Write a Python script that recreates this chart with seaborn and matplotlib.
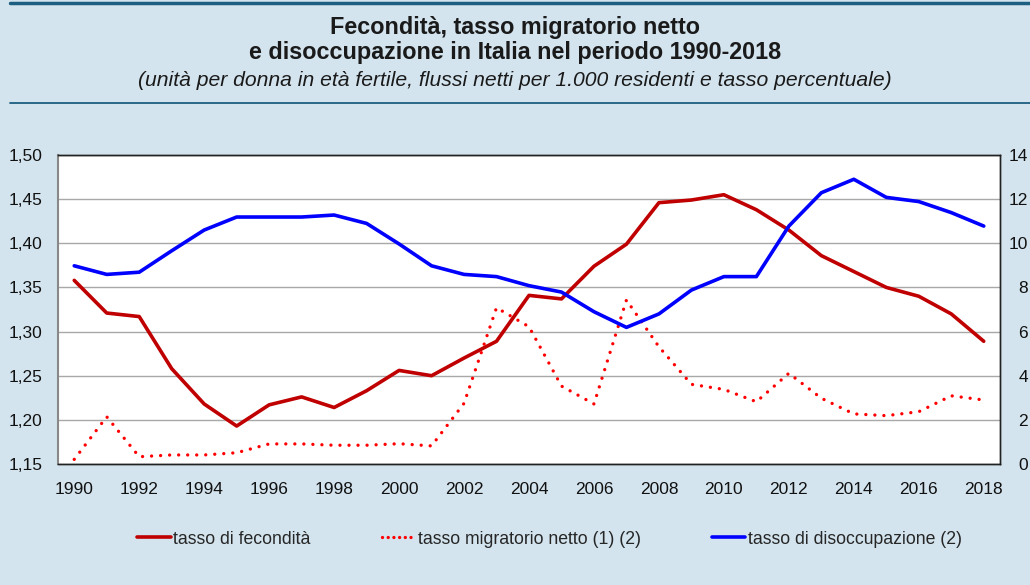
import numpy as np
import pandas as pd
import seaborn as sns
import matplotlib.pyplot as plt
from matplotlib.ticker import FuncFormatter, FixedLocator
from matplotlib.lines import Line2D

# dati
anni = list(range(1990, 2019))
fecondita = [1.358, 1.321, 1.317, 1.258, 1.218, 1.193, 1.217, 1.226, 1.214, 1.233,
             1.256, 1.250, 1.270, 1.289, 1.341, 1.337, 1.374, 1.399, 1.446, 1.449,
             1.455, 1.438, 1.415, 1.386, 1.368, 1.350, 1.340, 1.320, 1.289]
migratorio = [0.21, 2.14, 0.33, 0.41, 0.41, 0.51, 0.91, 0.91, 0.85, 0.85,
              0.92, 0.82, 2.75, 7.08, 6.22, 3.53, 2.72, 7.43, 5.31, 3.61,
              3.38, 2.82, 4.11, 2.98, 2.27, 2.19, 2.37, 3.09, 2.90]
disoccupazione = [8.98, 8.59, 8.69, 9.66, 10.60, 11.19, 11.19, 11.19, 11.28, 10.90,
                  9.97, 8.98, 8.59, 8.49, 8.08, 7.79, 6.90, 6.19, 6.80, 7.88,
                  8.49, 8.49, 10.78, 12.29, 12.90, 12.08, 11.89, 11.39, 10.78]
etichette_x = [str(a) for a in range(1990, 2019, 2)]

titolo = "Fecondità, tasso migratorio netto\ne disoccupazione in Italia nel periodo 1990-2018"
sottotitolo = "(unità per donna in età fertile, flussi netti per 1.000 residenti e tasso percentuale)"
nomi = ["tasso di fecondità", "tasso migratorio netto (1) (2)", "tasso di disoccupazione (2)"]

df = pd.DataFrame({"anno": anni, "fecondita": fecondita,
                   "migratorio": migratorio, "disoccupazione": disoccupazione})

sns.set_style("white")
plt.rcParams['font.family'] = ['Liberation Sans', 'DejaVu Sans']

sfondo = "#d3e4ee"
rosso_scuro = "#c00000"
rosso = "#ff0000"
blu = "#0000ff"

fig = plt.figure(figsize=(10.3, 5.85), dpi=100, facecolor=sfondo)
ax = fig.add_axes([58/1030, 1 - 464/585, 942/1030, 309/585])
ax.set_facecolor("white")
ax2 = ax.twinx()

sns.lineplot(data=df, x="anno", y="fecondita", ax=ax, color=rosso_scuro, linewidth=2.6, legend=False)
sns.lineplot(data=df, x="anno", y="migratorio", ax=ax2, color=rosso, linewidth=2.4,
             linestyle=(0, (0.01, 2.7)), dash_capstyle="round", legend=False)
sns.lineplot(data=df, x="anno", y="disoccupazione", ax=ax2, color=blu, linewidth=2.6, legend=False)

ax.set_xlim(1989.5, 2018.5)
ax.set_ylim(1.15, 1.50)
ax2.set_ylim(0, 14)
ax.set_yticks(np.arange(1.15, 1.501, 0.05))
ax2.set_yticks(range(0, 15, 2))
ax.yaxis.set_major_formatter(FuncFormatter(lambda v, p: f"{v:.2f}".replace(".", ",")))

ax.set_xticks(list(range(1990, 2019, 2)))
ax.set_xticklabels(etichette_x)
ax.xaxis.set_minor_locator(FixedLocator(np.arange(1989.5, 2019, 1.0)))
ax.tick_params(axis="x", which="major", length=0, labelsize=12.5, pad=13, colors="#111111")
ax.tick_params(axis="x", which="minor", length=4, direction="in", color="#777777", width=1)
ax.tick_params(axis="y", length=0, labelsize=12.5, pad=11, colors="#111111")
ax2.tick_params(axis="y", length=0, labelsize=12.5, pad=20, colors="#111111")
for t in ax2.get_yticklabels():
    t.set_horizontalalignment("right")

ax.set_xlabel("")
ax.set_ylabel("")
ax2.set_ylabel("")
ax.grid(axis="y", color="#a8a8a8", linewidth=1)
ax.grid(axis="x", visible=False)
ax2.grid(False)

for a in (ax, ax2):
    for s in a.spines.values():
        s.set_visible(True)
        s.set_color("#222222")
        s.set_linewidth(1)
ax.spines["left"].set_color("#888888")
ax.spines["left"].set_linewidth(1.5)
ax2.spines["left"].set_visible(False)

# titolo e linee di separazione
fig.text(0.5, 1 - 40/585, titolo, ha="center", va="center", fontsize=16.8,
         fontweight="bold", color="#1a1a1a", linespacing=1.12)
fig.text(0.5, 1 - 80/585, sottotitolo, ha="center", va="center", fontsize=15.2,
         style="italic", color="#1a1a1a")
fig.add_artist(Line2D([10/1030, 1], [1 - 3/585, 1 - 3/585], color="#1d5f80", linewidth=2.5))
fig.add_artist(Line2D([10/1030, 1], [1 - 103/585, 1 - 103/585], color="#1d5f80", linewidth=1.3))

# legenda
maniglie = [Line2D([], [], color=rosso_scuro, linewidth=2.6),
            Line2D([], [], color=rosso, linewidth=2.4, linestyle=(0, (0.01, 1.7)), dash_capstyle="round"),
            Line2D([], [], color=blu, linewidth=2.6)]
fig.legend(maniglie, nomi, loc="center", bbox_to_anchor=(0.5335, 1 - 539/585), ncol=3,
           frameon=False, fontsize=12.7, handlelength=1.9, handletextpad=0.12, columnspacing=4.05)

fig.savefig("out.png", dpi=100, facecolor=sfondo)
